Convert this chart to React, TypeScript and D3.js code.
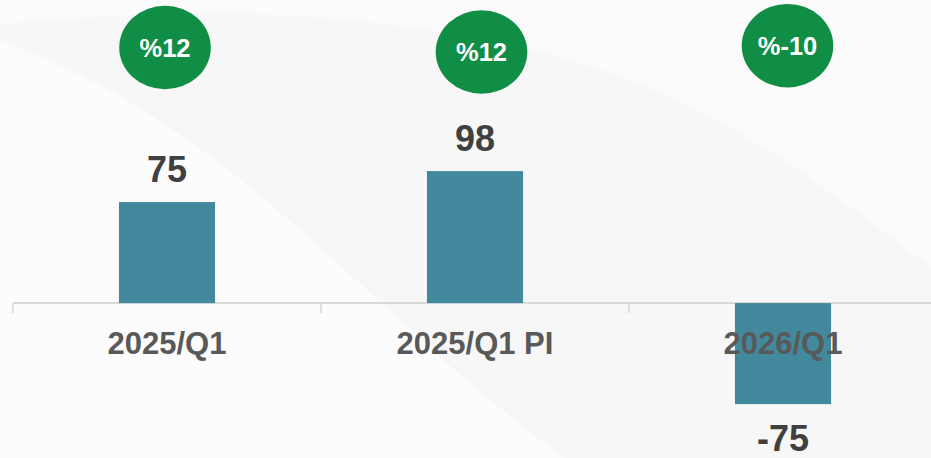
import React from "react";
import * as d3 from "d3";

const categories = ["2025/Q1", "2025/Q1 PI", "2026/Q1"];
const values = [75, 98, -75];
const valueLabels = ["75", "98", "-75"];
const badges = ["%12", "%12", "%-10"];

const W = 931;
const H = 458;

export default function App() {
  const x = d3.scaleBand<string>().domain(categories).range([13, 937]).paddingInner(0.688).paddingOuter(0.344);
  const y = d3.scaleLinear().domain([-115, 225]).range([H, 0]);
  const bw = x.bandwidth();
  const step = x.step();
  const y0 = y(0);
  const badgeDx = [-2, 6.5, 4.5];
  const badgeCy = [47.5, 52, 45.7];
  const font = "'Liberation Sans', Arial, sans-serif";
  const tickXs = [0, 1, 2, 3].map((i) => 13 + i * step);

  const curveA = d3.line().curve(d3.curveBasis)([
    [-10, 35], [120, 90], [260, 190], [420, 340], [500, 410], [580, 470],
  ]);
  const curveB = d3.line().curve(d3.curveBasis)([
    [-10, 25], [250, 5], [530, 40], [700, 105], [830, 190], [940, 275],
  ]);

  return (
    <svg
      width={W}
      height={H}
      style={{ position: "fixed", left: 0, top: 0, display: "block" }}
    >
      <rect width={W} height={H} fill="#f7f7f7" />
      <path d={`${curveB} L940,-10 L-10,-10 Z`} fill="#fbfbfb" />
      <path d={`${curveA} L-10,470 Z`} fill="#fcfcfc" />
      <line x1={13} x2={W} y1={y0} y2={y0} stroke="#d9d9d9" strokeWidth={2} />
      {tickXs.map((tx, i) => (
        <line key={i} x1={tx} x2={tx} y1={y0} y2={y0 + 10} stroke="#d9d9d9" strokeWidth={1.5} />
      ))}
      {categories.map((c, i) => {
        const v = values[i];
        const top = y(Math.max(0, v));
        const bot = y(Math.min(0, v));
        return (
          <rect key={"b" + i} x={x(c)!} y={top} width={bw} height={bot - top} fill="#42899e" />
        );
      })}
      {categories.map((c, i) => (
        <text
          key={"c" + i}
          x={x(c)! + bw / 2}
          y={353.5}
          textAnchor="middle"
          fontFamily={font}
          fontWeight="bold"
          fontSize={31}
          fill="#595959"
        >
          {c}
        </text>
      ))}
      {categories.map((c, i) => {
        const v = values[i];
        const ly = v >= 0 ? y(v) - 20.5 : y(v) + 47;
        return (
          <text
            key={"v" + i}
            x={x(c)! + bw / 2}
            y={ly}
            textAnchor="middle"
            fontFamily={font}
            fontWeight="bold"
            fontSize={36}
            fill="#404040"
          >
            {valueLabels[i]}
          </text>
        );
      })}
      {categories.map((c, i) => {
        const cx = x(c)! + bw / 2 + badgeDx[i];
        const cy = badgeCy[i];
        return (
          <g key={"g" + i}>
            <ellipse cx={cx} cy={cy} rx={45.8} ry={41.8} fill="#108e45" />
            <text
              x={cx}
              y={cy + 9.3}
              textAnchor="middle"
              fontFamily={font}
              fontWeight="bold"
              fontSize={25.5}
              fill="#ffffff"
            >
              {badges[i]}
            </text>
          </g>
        );
      })}
    </svg>
  );
}
